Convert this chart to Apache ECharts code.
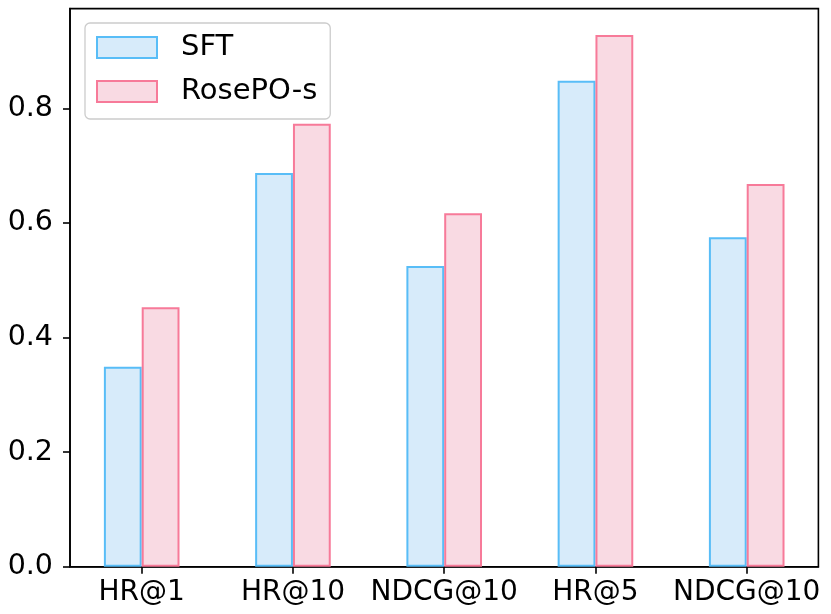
<!DOCTYPE html>
<html>
<head>
<meta charset="utf-8">
<script src="https://cdn.jsdelivr.net/npm/echarts@6/dist/echarts.min.js"></script>
<style>
  html, body { margin: 0; padding: 0; background: #fff; }
  #chart { width: 831px; height: 614px; }
</style>
</head>
<body>
<div id="chart"></div>
<script>
// metric names shown under each group
var categories = ['HR@1', 'HR@10', 'NDCG@10', 'HR@5', 'NDCG@10'];
var sftValues = [0.349, 0.687, 0.525, 0.848, 0.575];
var roseValues = [0.453, 0.773, 0.617, 0.928, 0.668];
var yTicks = [0, 0.2, 0.4, 0.6, 0.8];
var xTicks = [0, 1, 2, 3, 4];

var font = 'DejaVu Sans';
var barOffset = 0.125; // half of the bar width, in group units

function toPoints(values, shift) {
    var pts = [];
    for (var i = 0; i < values.length; i++) {
        pts.push([i + shift, values[i]]);
    }
    return pts;
}

var myChart = echarts.init(document.getElementById('chart'));

var option = {
    animation: false,
    grid: {
        left: 70,
        right: 12.6,
        top: 8.6,
        bottom: 47.3,
        show: true,
        borderColor: '#000',
        borderWidth: 1.6
    },
    legend: {
        orient: 'vertical',
        left: 85,
        top: 23,
        padding: [10, 13, 13, 11],
        itemWidth: 60,
        itemHeight: 21,
        itemGap: 15,
        backgroundColor: '#fff',
        borderColor: '#cccccc',
        borderWidth: 1.3,
        borderRadius: 5,
        icon: 'rect',
        textStyle: {
            fontFamily: font,
            fontSize: 29,
            lineHeight: 29,
            color: '#000',
            padding: [0, 0, 0, 19]
        },
        data: ['SFT', 'RosePO-s']
    },
    xAxis: {
        type: 'value',
        min: -0.474,
        max: 4.474,
        splitLine: { show: false },
        axisLine: { show: true, onZero: false, lineStyle: { color: '#000', width: 1.6 } },
        axisTick: {
            show: true,
            length: 7,
            customValues: xTicks,
            lineStyle: { color: '#000', width: 1.6 }
        },
        axisLabel: {
            customValues: xTicks,
            margin: 12,
            fontFamily: font,
            fontSize: 28,
            color: '#000',
            formatter: function (v) {
                return categories[Math.round(v)];
            }
        }
    },
    yAxis: {
        type: 'value',
        min: 0,
        max: 0.974,
        splitLine: { show: false },
        axisLine: { show: true, onZero: false, lineStyle: { color: '#000', width: 1.6 } },
        axisTick: {
            show: true,
            length: 7,
            customValues: yTicks,
            lineStyle: { color: '#000', width: 1.6 }
        },
        axisLabel: {
            customValues: yTicks,
            margin: 17,
            fontFamily: font,
            fontSize: 28.5,
            color: '#000',
            formatter: function (v) {
                return v.toFixed(1);
            }
        }
    },
    series: [
        {
            name: 'SFT',
            type: 'bar',
            barWidth: 37.8,
            barGap: '-100%',
            itemStyle: { color: '#d7ebfa', borderColor: '#58bdf7', borderWidth: 2 },
            data: toPoints(sftValues, -barOffset)
        },
        {
            name: 'RosePO-s',
            type: 'bar',
            barWidth: 37.8,
            barGap: '-100%',
            itemStyle: { color: '#f9dae3', borderColor: '#f77a99', borderWidth: 2 },
            data: toPoints(roseValues, barOffset)
        }
    ]
};

myChart.setOption(option);
</script>
</body>
</html>
